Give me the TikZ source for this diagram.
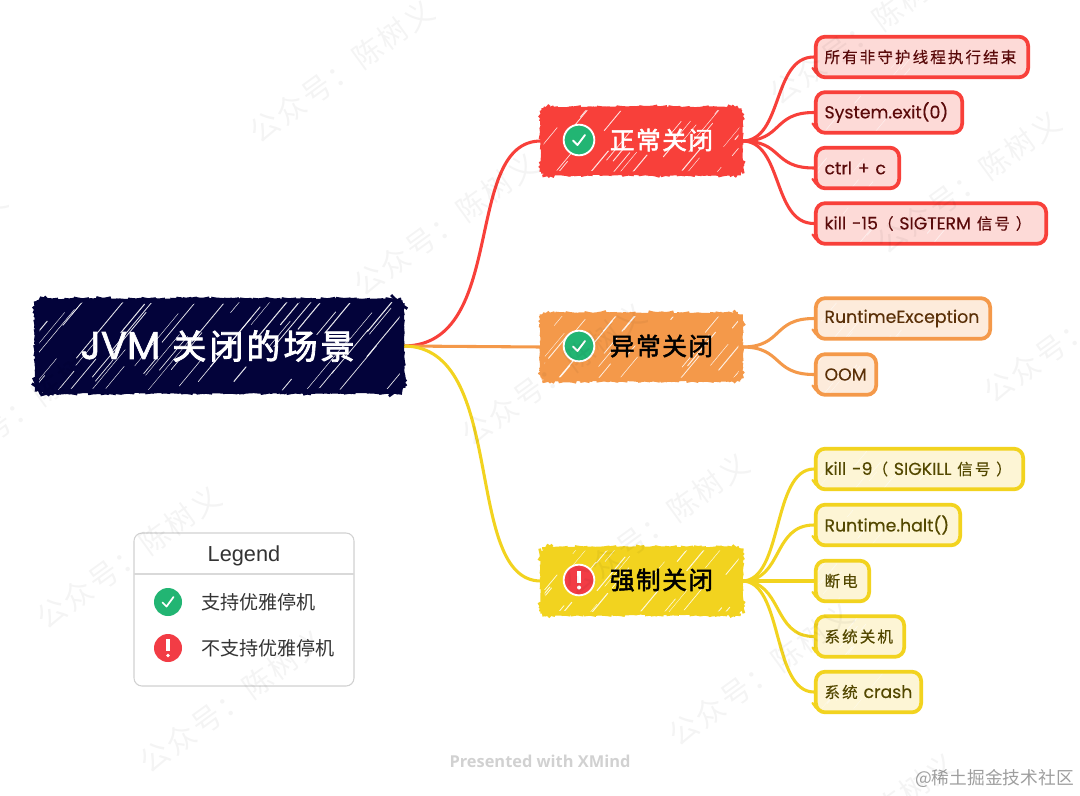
\documentclass[tikz,border=0pt]{standalone}
\usepackage{fontspec}
\usetikzlibrary{decorations.pathmorphing,backgrounds,calc}
\setmainfont{Poppins}[FakeBold=0.25]
\newfontfamily\latb[FakeBold=1.6]{Poppins}
\newfontfamily\cjk[LetterSpace=13,FakeBold=0.3,Scale=0.9]{Noto Sans CJK SC}
\newfontfamily\cjkb[LetterSpace=6,FakeBold=2]{Noto Sans CJK SC}
\newfontfamily\cjkr[LetterSpace=9,FakeBold=2.4]{Noto Sans CJK SC}
\newfontfamily\cjkplain{Noto Sans CJK SC}
\newfontfamily\wmfont[LetterSpace=8]{Noto Sans CJK SC}
\newfontfamily\legfont{Liberation Sans}
\newfontfamily\xmfont{Open Sans}
\definecolor{navy}{HTML}{03033A}
\definecolor{redB}{HTML}{F8403A}
\definecolor{orangeB}{HTML}{F4994A}
\definecolor{yellowB}{HTML}{F2D31F}
\definecolor{redL}{HTML}{FDDAD7}
\definecolor{orangeL}{HTML}{FDEBDB}
\definecolor{yellowL}{HTML}{FDF5D5}
\definecolor{redT}{HTML}{5A0A0A}
\definecolor{orangeT}{HTML}{5A3008}
\definecolor{yellowT}{HTML}{534800}
\definecolor{okG}{HTML}{22B573}
\definecolor{noR}{HTML}{F23C45}
\newcommand{\Hatch}[7]{% w h count minlen varlen lw opacity (pt)
  \begin{scope}[shift={(path picture bounding box.center)}]
  \foreach \n in {1,...,#3}{
    \pgfmathsetmacro\hx{(rnd-0.5)*#1}
    \pgfmathsetmacro\hy{(rnd-0.5)*#2}
    \pgfmathsetmacro\hl{#4+rnd*#5}
    \pgfmathsetmacro\hdx{\hl*0.64}
    \pgfmathsetmacro\hdy{\hl*0.77}
    \pgfmathsetmacro\hw{#6*(0.5+rnd)}
    \draw[white,line width=\hw pt,line cap=round,draw opacity=#7]
      (\hx pt-\hdx pt,\hy pt-\hdy pt) -- (\hx pt+\hdx pt,\hy pt+\hdy pt);
  }
  \end{scope}}
\tikzset{
  conn/.style={line width=2.3pt,line cap=round},
  rough/.style={decorate,decoration={random steps,segment length=2.4pt,amplitude=0.4pt}},
  rootbox/.style={fill=navy,draw=navy,line width=2pt,rounded corners=8pt,rough,inner sep=0pt},
  branchbox/.style={rounded corners=7pt,rough,line width=2pt,inner sep=0pt,minimum width=149pt,minimum height=49pt},
  leafbox/.style={rounded corners=7pt,line width=2.8pt,inner xsep=6.5pt,inner ysep=0pt,minimum height=30.5pt,align=left},
  redleaf/.style={leafbox,draw=redB,fill=redL,text=redT},
  orangeleaf/.style={leafbox,draw=orangeB,fill=orangeL,text=orangeT},
  yellowleaf/.style={leafbox,draw=yellowB,fill=yellowL,text=yellowT},
  iconbox/.style={circle,inner sep=0pt,minimum size=#1},
  tickmark/.style={white,line width=1.4pt,line cap=round,line join=round},
  wm/.style={rotate=36,anchor=west,text=black,text opacity=0.045,font=\wmfont\fontsize{22}{22}\selectfont,inner sep=0pt},
  hatchbranch/.style={path picture={\Hatch{160}{60}{26}{4}{13}{0.55}{0.85}}},
  hatchleaf/.style={path picture={\Hatch{#1}{33}{9}{3}{8}{0.45}{0.55}}},
  leaflabel/.style={font=\fontsize{13}{15}\selectfont}
}
% name x1 x2 cy colour text
\newcommand{\Leaf}[6]{%
  \pgfmathsetmacro\lw{(#3-#2-21)*0.75}
  \pgfmathsetmacro\lwb{(#3-#2)*0.75}
  \node[#5leaf,leaflabel,text width=\lw pt,hatchleaf=\lwb] (#1) at ({(#2+#3)/2},#4) {\mbox{#6}};
  \draw[#5B,line width=1.6pt,line cap=round] ($(#1.west)+(-1.5,11)$) -- ($(#1.west)+(2,16)$);}
\begin{document}
\begin{tikzpicture}[x=0.75pt,y=-0.75pt]
\useasboundingbox (0,0) rectangle (1080,795);
\pgfmathsetseed{11}

% root
\node[rootbox,minimum width=274pt,minimum height=68.5pt,
  path picture={\Hatch{285}{80}{52}{5}{30}{0.55}{0.9}}] (root) at (219.5,346) {};
\node[text=white,inner sep=0pt] (roottext) at (217.5,346)
  {{\latb\fontsize{29}{30}\selectfont JVM}\hspace{9pt}{\cjkr\fontsize{25.5}{30}\selectfont 关闭的场景}};

% branches
\node[branchbox,fill=redB,draw=redB,hatchbranch] (b1) at (641.5,141) {};
\node[branchbox,fill=orangeB,draw=orangeB,hatchbranch] (b2) at (641.5,347) {};
\node[branchbox,fill=yellowB,draw=yellowB,hatchbranch] (b3) at (641.5,581) {};

\node[text=white,inner sep=0pt,font=\cjkb\fontsize{18.5}{20}\selectfont] (t1) at (661.5,140) {正常关闭};
\node[text=black,inner sep=0pt,font=\cjkb\fontsize{18.5}{20}\selectfont] (t2) at (661.5,346) {异常关闭};
\node[text=black,inner sep=0pt,font=\cjkb\fontsize{18.5}{20}\selectfont] (t3) at (661.5,580) {强制关闭};

% status icons on branches
\node[iconbox=23pt,fill=okG,draw=white,line width=1.4pt] (i1) at (579,140) {};
\node[iconbox=23pt,fill=okG,draw=white,line width=1.4pt] (i2) at (579,346) {};
\node[iconbox=23pt,fill=noR,draw=white,line width=1.4pt] (i3) at (579,580) {};
\draw[tickmark] ($(i1)+(-6,0.5)$) -- ($(i1)+(-1.5,5)$) -- ($(i1)+(6,-5)$);
\draw[tickmark] ($(i2)+(-6,0.5)$) -- ($(i2)+(-1.5,5)$) -- ($(i2)+(6,-5)$);
\draw[tickmark,line width=2.6pt,line cap=butt] ($(i3)+(0,-9)$) -- ($(i3)+(0,3)$);
\fill[white] ($(i3)+(0,7.5)$) circle (1.5pt);

% leaves
\Leaf{l1}{814}{1030}{57}{red}{{\cjk 所有非守护线程执行结束}}
\Leaf{l2}{814}{964}{112.5}{red}{System.exit(0)}
\Leaf{l3}{814}{901}{168}{red}{ctrl + c}
\Leaf{l4}{814}{1048}{223.5}{red}{kill -15{\cjk（} SIGTERM {\cjk 信号 ）}}
\Leaf{l5}{814}{992}{318.5}{orange}{RuntimeException}
\Leaf{l6}{814}{878}{374.5}{orange}{OOM}
\Leaf{l7}{814}{1025}{469}{yellow}{kill -9{\cjk（} SIGKILL {\cjk 信号 ）}}
\Leaf{l8}{814}{962}{525}{yellow}{Runtime.halt()}
\Leaf{l9}{814}{871}{581}{yellow}{{\cjk 断电}}
\Leaf{l10}{814}{906}{636.5}{yellow}{{\cjk 系统关机}}
\Leaf{l11}{814}{923}{692}{yellow}{{\cjk 系统} crash}

% connectors
\begin{pgfonlayer}{background}
\draw[conn,redB] (root.east) .. controls +(105,0) and +(-79,0) .. (b1.west);
\draw[conn,orangeB] (root.east) -- (b2.west);
\draw[conn,yellowB] (root.east) .. controls +(105,0) and +(-79,0) .. (b3.west);
\foreach \L in {l1,l2,l3,l4}{
  \draw[conn,redB] (b1.east) .. controls +(41,0) and +(-42,0) .. (\L.west);}
\foreach \L in {l5,l6}{
  \draw[conn,orangeB] (b2.east) .. controls +(41,0) and +(-42,0) .. (\L.west);}
\foreach \L in {l7,l8,l9,l10,l11}{
  \draw[conn,yellowB] (b3.east) .. controls +(41,0) and +(-42,0) .. (\L.west);}
\end{pgfonlayer}

% legend
\draw[draw=black!18,line width=0.8pt,rounded corners=6pt,fill=white] (134,533) rectangle (354,686);
\coordinate (lgA) at (134,574);
\coordinate (lgB) at (354,574);
\draw[black!15,line width=0.8pt] (lgA) -- (lgB);
\node[inner sep=0pt,text=black!80,font=\legfont\fontsize{16.3}{18}\selectfont] (legt) at (244,556) {Legend};
\node[iconbox=21pt,fill=okG] (li1) at (168,602) {};
\node[iconbox=21pt,fill=noR] (li2) at (168,648) {};
\draw[tickmark,line width=1.3pt] ($(li1)+(-5.5,0.5)$) -- ($(li1)+(-1.5,4.5)$) -- ($(li1)+(5.5,-5)$);
\draw[tickmark,line width=2.4pt,line cap=butt] ($(li2)+(0,-9)$) -- ($(li2)+(0,3)$);
\fill[white] ($(li2)+(0,7.5)$) circle (1.4pt);
\node[anchor=west,inner sep=0pt,text=black!80,font=\cjkplain\fontsize{14.3}{16}\selectfont] (lt1) at (201,602) {支持优雅停机};
\node[anchor=west,inner sep=0pt,text=black!80,font=\cjkplain\fontsize{14.3}{16}\selectfont] (lt2) at (201,648) {不支持优雅停机};

% footers
\node[inner sep=0pt,text=black!18,font=\xmfont\bfseries\fontsize{12.3}{14}\selectfont] (xm) at (540,761) {Presented with XMind};
\node[anchor=east,inner sep=0pt,text=black!38,font=\cjkplain\fontsize{13.3}{16}\selectfont] (jj) at (1074,778) {@稀土掘金技术社区};

% watermarks
\foreach \i/\a/\b in {1/263/127,2/367/280,3/475/430,4/578/580,5/682/730,6/785/880,
  7/-164/315,8/-57/464,9/50/613,10/153/757,11/783/89,12/890/238,13/997/387}{
  \node[wm] (wm\i) at (\a-10,\b+9) {公众号：陈树义};
}
\end{tikzpicture}
\end{document}
